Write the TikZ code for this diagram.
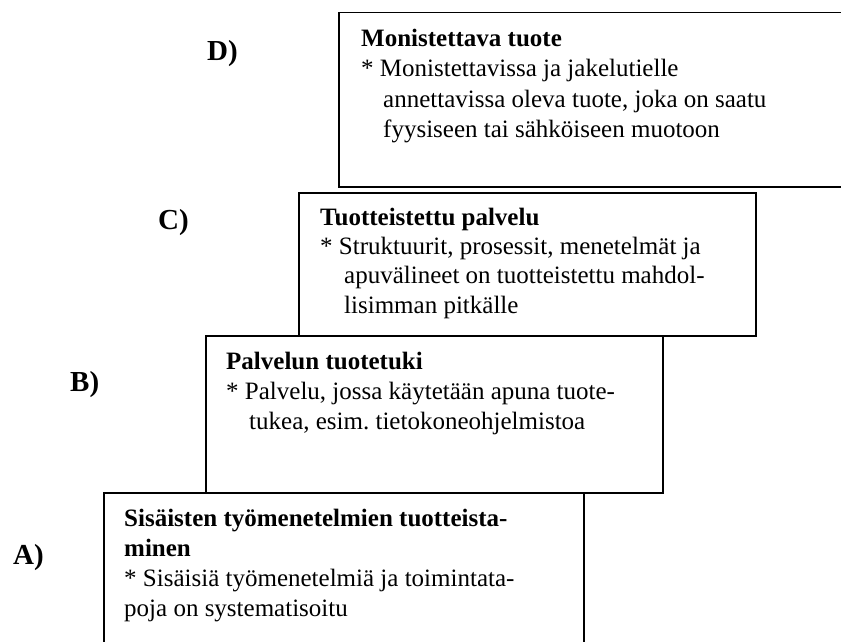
\documentclass[tikz,border=0pt]{standalone}
\usepackage{fontspec}
\setmainfont{Liberation Serif}
\frenchspacing
\begin{document}
\begin{tikzpicture}[x=1pt,y=-1pt,
  panel/.style={draw=black,line width=1.5pt,fill=white,anchor=north west,inner sep=0pt},
  txt/.style={anchor=base west,inner sep=0pt,font=\fontsize{25}{29}\selectfont},
  head/.style={anchor=base west,inner sep=0pt,font=\fontsize{25}{29}\selectfont\bfseries},
  tag/.style={anchor=base west,inner sep=0pt,font=\fontsize{29}{34}\selectfont\bfseries}]
\useasboundingbox (0,0) rectangle (841,642);
\begin{scope}
  \clip (0,0) rectangle (841,642);
  % stepped panels, top to bottom
  \node[panel,minimum width=542pt,minimum height=174pt] (boxD) at (338,12) {};
  \node[panel,minimum width=457pt,minimum height=143pt] (boxC) at (298,192) {};
  \node[panel,minimum width=457pt,minimum height=157pt] (boxB) at (205,335) {};
  \node[panel,minimum width=480pt,minimum height=200pt] (boxA) at (103,492) {};
\end{scope}

% D
\node[head] (dT) at (361,47) {Monistettava tuote};
\node[txt] (d1) at (361,77) {* Monistettavissa ja jakelutielle};
\node[txt] (d2) at (383,107) {annettavissa oleva tuote, joka on saatu};
\node[txt] (d3) at (383,137) {fyysiseen tai sähköiseen muotoon};

% C
\node[head] (cT) at (320,225) {Tuotteistettu palvelu};
\node[txt] (c1) at (320,254) {* Struktuurit, prosessit, menetelmät ja};
\node[txt] (c2) at (344,283) {apuvälineet on tuotteistettu mahdol-};
\node[txt] (c3) at (344,313) {lisimman pitkälle};

% B
\node[head] (bT) at (226,369) {Palvelun tuotetuki};
\node[txt] (b1) at (226,399) {* Palvelu, jossa käytetään apuna tuote-};
\node[txt] (b2) at (249,429) {tukea, esim. tietokoneohjelmistoa};

% A
\node[head] (aT) at (124,526) {Sisäisten työmenetelmien tuotteista-};
\node[head] (aT2) at (124,556) {minen};
\node[txt] (a1) at (124,586) {* Sisäisiä työmenetelmiä ja toimintata-};
\node[txt] (a2) at (124,616) {poja on systematisoitu};

% level labels
\node[tag] (labD) at (207,60) {D)};
\node[tag] (labC) at (158,229) {C)};
\node[tag] (labB) at (70,391) {B)};
\node[tag] (labA) at (13,564) {A)};
\end{tikzpicture}
\end{document}
